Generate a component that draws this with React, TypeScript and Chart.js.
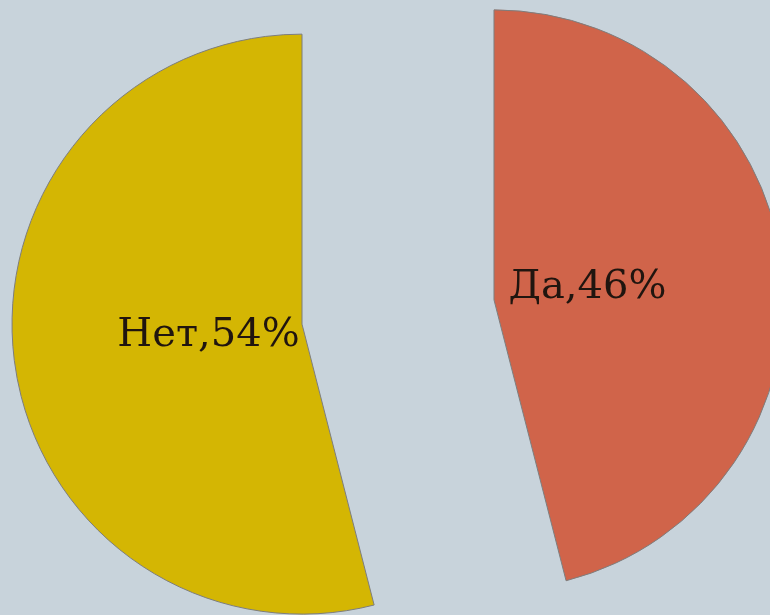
import React, { useEffect, useRef } from "react";
import { Chart, registerables } from "chart.js";

Chart.register(...registerables);

const categories = ["Да", "Нет"];
const values = [46, 54];
const colors = ["#D0644A", "#D4B603"];
const explode = 96.75;

const explodePlugin = {
  id: "explodeSlices",
  beforeDatasetDraw(chart: any, args: any) {
    const ctx = chart.ctx;
    const meta = args.meta;
    meta.data.forEach((arc: any) => {
      const { startAngle, endAngle } = arc.getProps(["startAngle", "endAngle"], true);
      const half = (startAngle + endAngle) / 2;
      ctx.save();
      ctx.translate(Math.cos(half) * explode, Math.sin(half) * explode);
      arc.draw(ctx, chart.chartArea);
      ctx.restore();
    });
    return false;
  },
  afterDatasetsDraw(chart: any) {
    const ctx = chart.ctx;
    const meta = chart.getDatasetMeta(0);
    const total = values.reduce((a, b) => a + b, 0);
    ctx.save();
    ctx.font = "40px 'DejaVu Serif'";
    ctx.fillStyle = "#20150f";
    ctx.textAlign = "center";
    ctx.textBaseline = "middle";
    meta.data.forEach((arc: any, i: number) => {
      const { x, y, startAngle, endAngle, outerRadius } = arc.getProps(
        ["x", "y", "startAngle", "endAngle", "outerRadius"],
        true
      );
      const half = (startAngle + endAngle) / 2;
      const t = explode + outerRadius * 0.325;
      const lx = x + Math.cos(half) * t;
      const ly = y + Math.sin(half) * t;
      const pct = Math.round((values[i] / total) * 100);
      ctx.fillText(`${categories[i]},${pct}%`, lx, ly);
    });
    ctx.restore();
  },
};

export default function App() {
  const ref = useRef<HTMLCanvasElement>(null);
  useEffect(() => {
    document.body.style.margin = "0";
    document.body.style.background = "#C8D3DB";
    const chart = new Chart(ref.current!, {
      type: "pie",
      data: {
        labels: categories,
        datasets: [
          {
            data: values,
            backgroundColor: colors,
            borderColor: "#7d7d7d",
            borderWidth: 1,
          },
        ],
      },
      options: {
        responsive: false,
        animation: false,
        radius: 290,
        layout: { padding: { left: 26, top: 9, right: 0, bottom: 0 } },
        plugins: {
          legend: { display: false },
          tooltip: { enabled: false },
        },
      } as any,
      plugins: [explodePlugin],
    });
    return () => chart.destroy();
  }, []);
  return (
    <div style={{ width: 770, height: 615, background: "#C8D3DB" }}>
      <canvas ref={ref} width={770} height={615} />
    </div>
  );
}
